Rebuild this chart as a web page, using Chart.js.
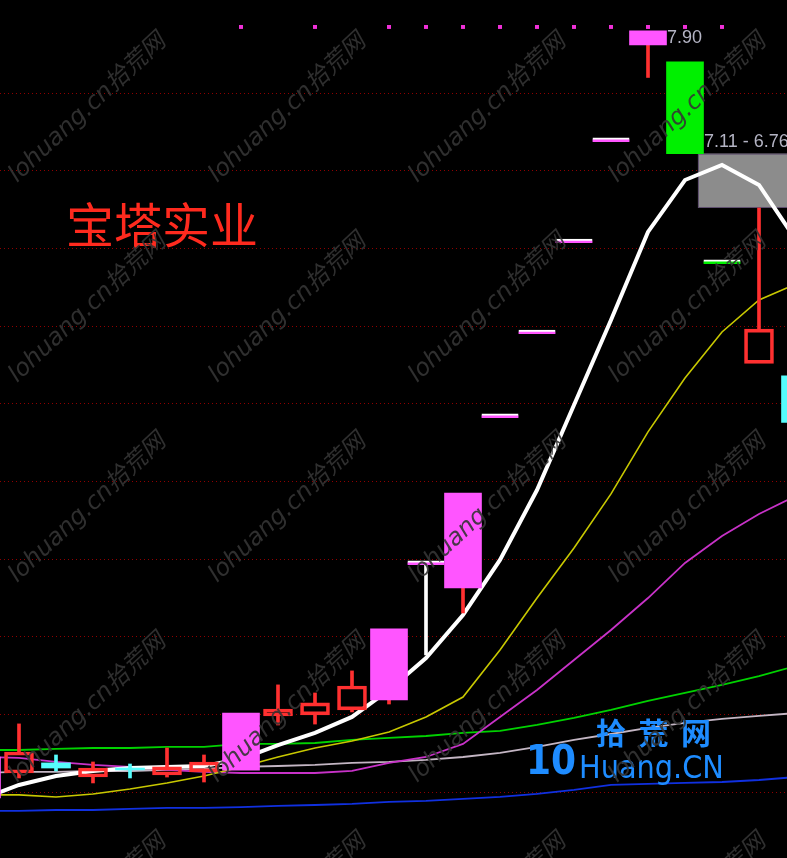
<!DOCTYPE html>
<html>
<head>
<meta charset="utf-8">
<script src="https://cdn.jsdelivr.net/npm/chart.js@4.4.1/dist/chart.umd.min.js"></script>
<style>
  html, body { margin: 0; padding: 0; background: #000; }
  #wrap { position: relative; width: 787px; height: 858px; }
</style>
</head>
<body>
<div id="wrap"><canvas id="kline"></canvas></div>
<script>
// candle data, one entry per trading day (index 0 is the half hidden one on the left edge)
const kinds  = ['hot','up','down','up','down','up','up','hot','up','up','up','hot','flat','hot','flat','flat','flat','flat','hot','fall','flatdown','up','down'];
const opens  = [2.963, 3.124, 3.189, 3.098, 3.156, 3.111, 3.131, 3.143, 3.491, 3.498, 3.530, 3.594, 4.463, 4.315, 5.409, 5.949, 6.535, 7.185, 7.81, 7.70, 6.40, 5.76, 5.68];
const highs  = [3.227, 3.440, 3.240, 3.195, 3.182, 3.285, 3.240, 3.510, 3.691, 3.639, 3.781, 4.051, 4.463, 4.926, 5.409, 5.949, 6.535, 7.185, 7.90, 7.70, 6.40, 6.76, 5.68];
const lows   = [2.963, 3.092, 3.137, 3.060, 3.092, 3.098, 3.066, 3.143, 3.433, 3.439, 3.517, 3.568, 3.884, 4.154, 5.409, 5.949, 6.535, 7.185, 7.60, 7.11, 6.40, 5.76, 5.38];
const closes = [3.227, 3.259, 3.156, 3.156, 3.144, 3.163, 3.195, 3.510, 3.536, 3.575, 3.684, 4.051, 4.463, 4.926, 5.409, 5.949, 6.535, 7.185, 7.90, 7.11, 6.40, 5.98, 5.38];

// moving averages
const ma5   = [2.957, 3.047, 3.105, 3.137, 3.156, 3.163, 3.169, 3.214, 3.304, 3.382, 3.485, 3.658, 3.864, 4.141, 4.495, 4.945, 5.492, 6.039, 6.606, 6.940, 7.037, 6.908, 6.554];
const ma10  = [2.983, 2.983, 2.970, 2.989, 3.021, 3.060, 3.105, 3.163, 3.227, 3.285, 3.330, 3.388, 3.485, 3.613, 3.916, 4.250, 4.572, 4.920, 5.319, 5.666, 5.962, 6.168, 6.271];
const ma20  = [3.227, 3.221, 3.195, 3.176, 3.163, 3.144, 3.131, 3.124, 3.124, 3.124, 3.137, 3.189, 3.227, 3.311, 3.485, 3.658, 3.851, 4.044, 4.250, 4.476, 4.649, 4.791, 4.907];
const ma30  = [3.272, 3.272, 3.279, 3.285, 3.285, 3.292, 3.292, 3.311, 3.311, 3.317, 3.337, 3.350, 3.362, 3.382, 3.395, 3.433, 3.478, 3.530, 3.588, 3.639, 3.691, 3.748, 3.813];
const ma60  = [3.124, 3.131, 3.131, 3.137, 3.137, 3.144, 3.150, 3.163, 3.169, 3.176, 3.189, 3.195, 3.208, 3.227, 3.253, 3.292, 3.337, 3.375, 3.414, 3.446, 3.472, 3.491, 3.510];
const ma120 = [2.880, 2.880, 2.886, 2.886, 2.893, 2.899, 2.899, 2.905, 2.912, 2.918, 2.925, 2.938, 2.944, 2.957, 2.970, 2.989, 3.015, 3.047, 3.054, 3.060, 3.066, 3.079, 3.098];

// signal markers along the top
const signalDays = [7, 9, 11, 12, 13, 14, 15, 16, 17, 18, 19, 20];
const signalLevel = 7.925;

const gridLevels = [3.0, 3.5, 4.0, 4.5, 5.0, 5.5, 6.0, 6.5, 7.0, 7.5];
const gapRange = [7.11, 6.76];
const gapStartDay = 19.35;
const peakDay = 18;

const stockName = '宝塔实业';

// view window
const X_MIN = 0.4865, X_MAX = X_MIN + 787 / 37;
const Y_MIN = 2.577, Y_MAX = 8.0985;

const RED = '#ff3030', CYAN = '#55fcfc', MAGENTA = '#ff55ff', GREEN = '#00f000', WHITE = '#ffffff';
const bodyFill = { up: 'rgba(0,0,0,0)', down: CYAN, hot: MAGENTA, flat: MAGENTA, fall: GREEN, flatdown: GREEN };
const wickColor = { up: RED, down: CYAN, hot: RED, flat: WHITE, fall: GREEN, flatdown: GREEN };

const narrowBodies = [], wideBodies = [], upperWicks = [], lowerWicks = [];
kinds.forEach((k, i) => {
  const top = Math.max(opens[i], closes[i]);
  const bot = Math.min(opens[i], closes[i]);
  const body = { x: i, y: [bot, top], k };
  if (k === 'up' || k === 'down') narrowBodies.push(body); else wideBodies.push(body);
  if (highs[i] > top) upperWicks.push({ x: i, y: [top, highs[i]], k });
  if (lows[i] < bot) lowerWicks.push({ x: i, y: [lows[i], bot], k });
});

const asPoints = arr => arr.map((v, i) => ({ x: i, y: v }));

const maLine = (label, data, color, width) => ({
  type: 'line', label, data: asPoints(data),
  borderColor: color, borderWidth: width,
  pointRadius: 0, tension: 0, order: 5
});

const barBase = { categoryPercentage: 1, barPercentage: 1, grouped: false, borderSkipped: false };

const overlay = {
  id: 'overlay',
  beforeDatasetsDraw(chart) {
    const { ctx, chartArea, scales: { x, y } } = chart;
    const left = x.getPixelForValue(gapStartDay);
    const top = y.getPixelForValue(gapRange[0]);
    const bottom = y.getPixelForValue(gapRange[1]);
    ctx.save();
    ctx.fillStyle = '#8c8c8c';
    ctx.fillRect(left, top, chartArea.right - left, bottom - top);
    ctx.strokeStyle = '#5e4e6e';
    ctx.lineWidth = 1;
    ctx.strokeRect(left + 0.5, top + 0.5, chartArea.right - left + 5, bottom - top - 1);
    ctx.restore();
  },
  afterDatasetsDraw(chart) {
    const { ctx, scales: { x, y } } = chart;
    ctx.save();

    // price labels
    ctx.fillStyle = '#b4b4c4';
    ctx.font = '18px "Liberation Sans", Arial, sans-serif';
    ctx.textBaseline = 'middle';
    ctx.textAlign = 'left';
    ctx.fillText(highs[peakDay].toFixed(2), x.getPixelForValue(peakDay) + 19, y.getPixelForValue(highs[peakDay]) + 7);
    ctx.fillText(gapRange[0].toFixed(2) + ' - ' + gapRange[1].toFixed(2),
      x.getPixelForValue(peakDay + 1) + 19, y.getPixelForValue(gapRange[0]) - 12);

    // stock name
    ctx.fillStyle = '#ff2a1e';
    ctx.font = '48px "Noto Sans CJK SC", sans-serif';
    ctx.fillText(stockName, 66, 225);

    // site logo
    ctx.fillStyle = '#1e8cff';
    ctx.font = 'bold 30px "Noto Sans CJK SC", sans-serif';
    ['拾', '荒', '网'].forEach((c, i) => ctx.fillText(c, 596 + i * 42.5, 733));
    ctx.font = 'bold 40px "DejaVu Sans Condensed", "DejaVu Sans", sans-serif';
    ctx.fillText('10', 526, 764);
    ctx.font = '32px "DejaVu Sans Condensed", "DejaVu Sans", sans-serif';
    ctx.fillText('Huang.CN', 579, 770);

    // watermark
    ctx.fillStyle = 'rgba(52,52,52,0.9)';
    ctx.font = 'italic 24px "DejaVu Sans", "Noto Sans CJK SC", sans-serif';
    ctx.textBaseline = 'alphabetic';
    for (let gx = 17; gx < 800; gx += 200) {
      for (let gy = 183; gy < 1100; gy += 200) {
        ctx.save();
        ctx.translate(gx, gy);
        ctx.rotate(-43 * Math.PI / 180);
        ctx.fillText('lohuang.cn拾荒网', 0, 0);
        ctx.restore();
      }
    }
    ctx.restore();
  }
};

new Chart(document.getElementById('kline'), {
  type: 'bar',
  data: {
    datasets: [
      { ...barBase, label: 'body', data: narrowBodies, maxBarThickness: 29, order: 1,
        backgroundColor: c => bodyFill[c.raw.k], borderColor: RED,
        borderWidth: c => c.raw.k === 'up' ? 3 : 0 },
      { ...barBase, label: 'body wide', data: wideBodies, maxBarThickness: 37, order: 1, minBarLength: 4,
        backgroundColor: c => bodyFill[c.raw.k], borderColor: WHITE,
        borderWidth: c => (c.raw.k === 'flat' || c.raw.k === 'flatdown') ? { top: 2, right: 0, bottom: 0, left: 0 } : 0 },
      { ...barBase, label: 'upper wick', data: upperWicks, maxBarThickness: 3, order: 2,
        backgroundColor: c => wickColor[c.raw.k], borderWidth: 0 },
      { ...barBase, label: 'lower wick', data: lowerWicks, maxBarThickness: 3, order: 2,
        backgroundColor: c => wickColor[c.raw.k], borderWidth: 0 },
      { type: 'line', label: 'signal', data: signalDays.map(d => ({ x: d, y: signalLevel })),
        showLine: false, pointStyle: 'rect', pointRadius: 2.8, pointBorderWidth: 0,
        pointBackgroundColor: '#f030d8', order: 0 },
      maLine('MA5', ma5, '#ffffff', 4),
      maLine('MA10', ma10, '#c8c800', 1.6),
      maLine('MA20', ma20, '#c832c8', 1.8),
      maLine('MA30', ma30, '#00d200', 1.8),
      maLine('MA60', ma60, '#c4b6c4', 1.8),
      maLine('MA120', ma120, '#1030e0', 1.8)
    ]
  },
  options: {
    responsive: true,
    maintainAspectRatio: false,
    animation: false,
    events: [],
    layout: { padding: 0, autoPadding: false },
    plugins: { legend: { display: false }, tooltip: { enabled: false } },
    scales: {
      x: {
        type: 'linear', min: X_MIN, max: X_MAX, offset: false, display: false,
        ticks: { stepSize: 1, includeBounds: false }, grid: { display: false }
      },
      y: {
        type: 'linear', min: Y_MIN, max: Y_MAX, beginAtZero: false, stacked: false,
        afterBuildTicks: s => { s.ticks = gridLevels.map(v => ({ value: v })); },
        afterFit: s => { s.width = 0; },
        ticks: { display: false },
        border: { display: false, dash: [1, 3] },
        grid: { color: '#900000', lineWidth: 1, drawTicks: false, tickLength: 0 }
      }
    }
  },
  plugins: [overlay]
});
</script>
</body>
</html>
